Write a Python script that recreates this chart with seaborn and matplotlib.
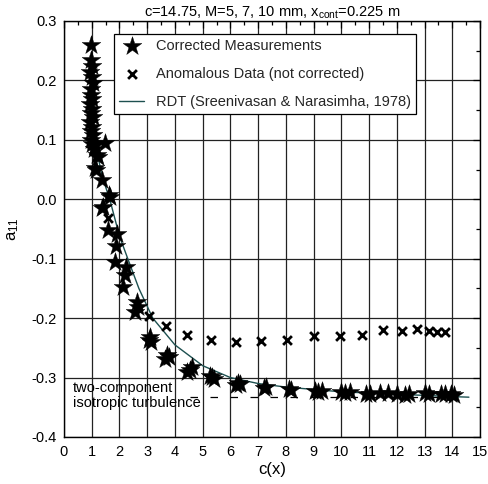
import numpy as np
import pandas as pd
import seaborn as sns
import matplotlib
matplotlib.use("Agg")
import matplotlib.pyplot as plt
from matplotlib.ticker import MultipleLocator

# ---- data ----
star_c = [0.99, 0.97, 1.02, 0.95, 1.00, 1.03, 0.96, 0.99, 1.02, 0.94, 1.00, 0.97, 1.04, 0.95, 1.01,
          0.98, 1.05, 0.96, 1.02, 1.08, 1.12, 1.48, 1.18, 1.23, 1.12, 1.15, 1.36, 1.62, 1.66, 1.41,
          1.37, 1.59, 1.90, 1.86, 1.84, 2.24, 2.20, 2.13, 2.63, 2.56, 2.66, 3.10, 3.14, 3.05, 3.71,
          3.80, 3.65, 4.54, 4.45, 4.60, 5.32, 5.40, 5.25, 6.27, 6.35, 6.20, 7.20, 7.30, 8.10, 8.20,
          9.05, 9.15, 9.30, 10.00, 10.15, 10.30, 10.90, 11.05, 11.40, 11.70, 12.00, 12.30, 12.45,
          13.00, 13.15, 13.60, 13.75, 13.95, 14.05]
star_a = [0.260, 0.235, 0.225, 0.215, 0.205, 0.195, 0.185, 0.175, 0.168, 0.160, 0.152, 0.145, 0.138,
          0.130, 0.122, 0.115, 0.108, 0.100, 0.093, 0.085, 0.091, 0.095, 0.075, 0.071, 0.053, 0.049,
          0.032, 0.007, 0.004, -0.013, -0.015, -0.052, -0.058, -0.078, -0.105, -0.114, -0.127,
          -0.147, -0.173, -0.190, -0.182, -0.232, -0.240, -0.237, -0.262, -0.265, -0.268, -0.287,
          -0.290, -0.283, -0.299, -0.302, -0.297, -0.309, -0.310, -0.312, -0.318, -0.316, -0.319,
          -0.321, -0.322, -0.324, -0.323, -0.324, -0.326, -0.325, -0.328, -0.327, -0.326, -0.326,
          -0.328, -0.329, -0.327, -0.326, -0.328, -0.328, -0.327, -0.328, -0.329]

cross_c = [1.59, 3.08, 3.69, 4.42, 5.30, 6.19, 7.09, 8.05, 9.03, 9.95, 10.76, 11.52, 12.18, 12.74,
           13.17, 13.46, 13.74]
cross_a = [-0.032, -0.196, -0.214, -0.228, -0.236, -0.240, -0.239, -0.237, -0.230, -0.230, -0.228,
           -0.220, -0.221, -0.218, -0.222, -0.223, -0.223]

rdt_c = [1.0, 1.25, 1.4, 1.65, 2.0, 2.3, 2.7, 3.2, 4.0, 5.0, 6.0, 7.0, 8.0, 9.0, 10.0, 11.0, 12.0,
         13.0, 14.0, 14.6]
rdt_a = [0.13, 0.066, 0.035, 0.0, -0.062, -0.100, -0.150, -0.200, -0.245, -0.280, -0.300, -0.310,
         -0.316, -0.320, -0.324, -0.326, -0.328, -0.330, -0.332, -0.333]

limit_c = [4.55, 14.6]
limit_a = [-1/3, -1/3]

xticks = list(range(0, 16))
yticks = [0.3, 0.2, 0.1, 0.0, -0.1, -0.2, -0.3, -0.4]

sns.set_theme(style="white")
plt.rcParams['font.family'] = ['Liberation Sans', 'DejaVu Sans']
plt.rcParams['axes.unicode_minus'] = False
plt.rcParams['mathtext.fontset'] = 'custom'
plt.rcParams['mathtext.rm'] = 'Liberation Sans'
plt.rcParams['mathtext.it'] = 'Liberation Sans'

fig = plt.figure(figsize=(4.88, 4.84), dpi=100)
ax = fig.add_axes([64/488, 1-437/484, (480-64)/488, (437-21)/484])

stars = pd.DataFrame({"c": star_c, "a": star_a})
crosses = pd.DataFrame({"c": cross_c, "a": cross_a})
rdt = pd.DataFrame({"c": rdt_c, "a": rdt_a})

ax.grid(True, which='major', color='#222222', linewidth=0.9)
ax.set_axisbelow(True)

sns.lineplot(data=rdt, x="c", y="a", ax=ax, color='#1d5050', linewidth=1.0,
             label='RDT (Sreenivasan & Narasimha, 1978)', zorder=2)
ax.plot(limit_c, limit_a, color='black', linewidth=0.9, dashes=(6, 10), zorder=2)
sns.scatterplot(data=stars, x="c", y="a", ax=ax, marker='*', s=200, color='black',
                edgecolor='black', linewidth=0.3, label='Corrected Measurements', zorder=3)
sns.scatterplot(data=crosses, x="c", y="a", ax=ax, marker='x', s=40, color='black',
                linewidth=2.0, label='Anomalous Data (not corrected)', zorder=3)

ax.set_xlim(0, 15)
ax.set_ylim(-0.4, 0.3)
ax.set_xticks(xticks)
ax.set_yticks(yticks)
ax.set_yticklabels([f"{v:.1f}" for v in yticks])
ax.xaxis.set_minor_locator(MultipleLocator(0.5))
ax.yaxis.set_minor_locator(MultipleLocator(0.05))
ax.tick_params(which='both', direction='in', top=True, right=True, colors='black',
               labelsize=10.5, width=0.9)
ax.tick_params(axis='x', pad=6)
ax.tick_params(axis='y', pad=5)
ax.tick_params(which='major', length=5)
ax.tick_params(which='minor', length=3)
for sp in ax.spines.values():
    sp.set_color('black')
    sp.set_linewidth(1.0)

ax.set_xlabel('c(x)', fontsize=12, color='black', labelpad=2)
ax.set_ylabel('a$_{11}$', fontsize=12, color='black', labelpad=8)
ax.set_title('c=14.75, M=5, 7, 10 mm, x$_{\\rm cont}$=0.225 m', fontsize=10.5, color='black', pad=3)

ax.text(0.31, -0.305, 'two-component\nisotropic turbulence', fontsize=10.5, color='black',
        va='top', ha='left', linespacing=1.1)

handles, labels = ax.get_legend_handles_labels()
order = [labels.index('Corrected Measurements'), labels.index('Anomalous Data (not corrected)'),
         labels.index('RDT (Sreenivasan & Narasimha, 1978)')]
leg = ax.legend([handles[i] for i in order], [labels[i] for i in order],
                loc='upper left', bbox_to_anchor=((114-64)/416, (437-34)/416),
                frameon=True, fancybox=False, shadow=False, edgecolor='black',
                framealpha=1, fontsize=10.5, labelspacing=0.95, handlelength=1.7,
                borderpad=0.35, handletextpad=0.8, borderaxespad=0)
leg.get_frame().set_linewidth(0.9)
leg.set_zorder(5)

fig.savefig('out.png', dpi=100)
